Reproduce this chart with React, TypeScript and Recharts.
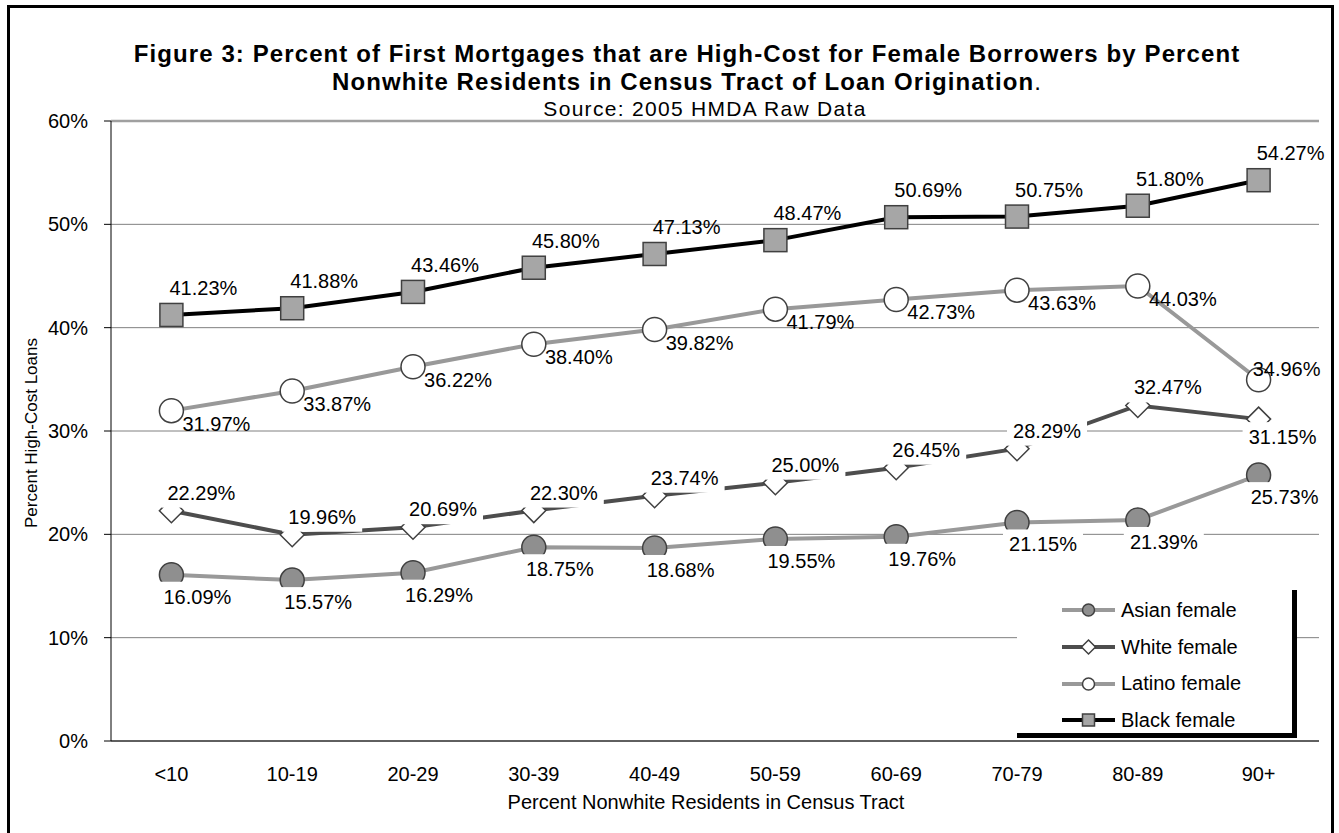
import {
  LineChart,
  Line,
  XAxis,
  YAxis,
  CartesianGrid,
  Legend,
  LabelList,
  ReferenceLine,
} from "recharts";

const categories = ["<10", "10-19", "20-29", "30-39", "40-49", "50-59", "60-69", "70-79", "80-89", "90+"];
const asianFemale = [16.09, 15.57, 16.29, 18.75, 18.68, 19.55, 19.76, 21.15, 21.39, 25.73];
const whiteFemale = [22.29, 19.96, 20.69, 22.3, 23.74, 25.0, 26.45, 28.29, 32.47, 31.15];
const latinoFemale = [31.97, 33.87, 36.22, 38.4, 39.82, 41.79, 42.73, 43.63, 44.03, 34.96];
const blackFemale = [41.23, 41.88, 43.46, 45.8, 47.13, 48.47, 50.69, 50.75, 51.8, 54.27];
const yTicks = [0, 10, 20, 30, 40, 50, 60];
const bandEdges = [0, 1, 2, 3, 4, 5, 6, 7, 8, 9, 10];
const seriesOrder = ["asian", "white", "latino", "black"];

const data = categories.map((cat, i) => ({
  cat,
  asian: asianFemale[i],
  white: whiteFemale[i],
  latino: latinoFemale[i],
  black: blackFemale[i],
}));

const FONT = "'Liberation Sans', Arial, sans-serif";
const MARKER_STROKE = "#404040";

// a couple of labels were moved by hand in the original so they don't collide
const labelNudge: Record<string, Record<number, [number, number]>> = {
  latino: { 9: [28, -11] },
  white: { 9: [24, 18] },
};

type Shape = "circleGray" | "diamond" | "circleWhite" | "square";

const shapeOf: Record<string, Shape> = {
  asian: "circleGray",
  white: "diamond",
  latino: "circleWhite",
  black: "square",
};

function marker(shape: Shape, cx: number, cy: number, s: number, key?: string) {
  if (shape === "square") {
    return (
      <rect key={key} x={cx - s} y={cy - s} width={s * 2} height={s * 2}
        fill="#a6a6a6" stroke={MARKER_STROKE} strokeWidth={1.5} />
    );
  }
  if (shape === "diamond") {
    return (
      <polygon key={key}
        points={`${cx},${cy - s} ${cx + s},${cy} ${cx},${cy + s} ${cx - s},${cy}`}
        fill="#fff" stroke={MARKER_STROKE} strokeWidth={1.5} />
    );
  }
  return (
    <circle key={key} cx={cx} cy={cy} r={s}
      fill={shape === "circleGray" ? "#8f8f8f" : "#fff"}
      stroke={MARKER_STROKE} strokeWidth={1.5} />
  );
}

const dotFor = (shape: Shape, s: number) => (props: any) =>
  marker(shape, props.cx, props.cy, s, `${shape}-${props.index}`);

// labels sit off the point; some have a white box behind them like in Excel
const labelFor = (series: string, dx: number, dy: number, boxed: boolean) => (props: any) => {
  const { x, y, value, index } = props;
  if (value == null) return null;
  const [ox, oy] = labelNudge[series]?.[index] ?? [dx, dy];
  const cx = Number(x) + ox;
  const cy = Number(y) + oy;
  return (
    <g key={`lbl-${index}`}>
      {boxed && <rect x={cx - 40} y={cy - 15} width={80} height={30} fill="#fff" />}
      <text x={cx} y={cy} textAnchor="middle" dominantBaseline="central"
        fontSize={20} fontFamily={FONT} fill="#000">
        {`${Number(value).toFixed(2)}%`}
      </text>
    </g>
  );
};

const lineColor: Record<string, string> = {
  asian: "#999999",
  white: "#4d4d4d",
  latino: "#999999",
  black: "#000000",
};

function renderLegend(props: any) {
  const payload = [...(props.payload || [])].sort(
    (a: any, b: any) => seriesOrder.indexOf(a.dataKey) - seriesOrder.indexOf(b.dataKey)
  );
  return (
    <div
      style={{
        width: 280,
        height: 148,
        background: "#fff",
        borderRight: "5px solid #000",
        borderBottom: "5px solid #000",
        boxSizing: "border-box",
        paddingTop: 2,
        fontFamily: FONT,
        fontSize: 20,
        color: "#000",
      }}
    >
      {payload.map((entry: any) => {
        const key = entry.dataKey as string;
        const shape = shapeOf[key];
        return (
          <div key={key} style={{ display: "flex", alignItems: "center", height: 36.7 }}>
            <svg width={59} height={20} style={{ marginLeft: 45, flex: "none" }}>
              <line x1={0} y1={10} x2={53} y2={10} stroke={lineColor[key]} strokeWidth={4} />
              {marker(shape, 26.5, 10, shape === "diamond" ? 7 : 6)}
            </svg>
            <span style={{ whiteSpace: "nowrap" }}>{entry.value}</span>
          </div>
        );
      })}
    </div>
  );
}

const centered = (top: number, extra: any) => ({
  position: "absolute" as const,
  left: 687,
  top,
  transform: "translate(-50%, -50%)",
  whiteSpace: "nowrap" as const,
  fontFamily: FONT,
  color: "#000",
  ...extra,
});

export default function App() {
  return (
    <div style={{ position: "absolute", left: 0, top: 0, width: 1339, height: 833, overflow: "hidden", background: "#fff" }}>
      <div
        style={{
          position: "absolute",
          left: 7,
          top: 5,
          width: 1327,
          height: 850,
          border: "3px solid #000",
          boxSizing: "border-box",
        }}
      />
      <div style={centered(54, { fontSize: 24, lineHeight: "24px", fontWeight: "bold", letterSpacing: 1.1 })}>
        Figure 3: Percent of First Mortgages that are High-Cost for Female Borrowers by Percent
      </div>
      <div style={centered(82, { fontSize: 24, lineHeight: "24px", letterSpacing: 1.1 })}>
        <b>Nonwhite Residents in Census Tract of Loan Origination</b>.
      </div>
      <div style={centered(108, { left: 705, fontSize: 21, lineHeight: "21px", letterSpacing: 1.3 })}>
        Source: 2005 HMDA Raw Data
      </div>
      <div
        style={{
          position: "absolute",
          left: 32,
          top: 433,
          transform: "translate(-50%, -50%) rotate(-90deg)",
          whiteSpace: "nowrap",
          fontFamily: FONT,
          fontSize: 17,
          color: "#000",
        }}
      >
        Percent High-Cost Loans
      </div>
      <div style={centered(802, { left: 706, fontSize: 20 })}>
        Percent Nonwhite Residents in Census Tract
      </div>
      <div style={{ position: "absolute", left: 0, top: 0 }}>
        <LineChart width={1339} height={833} data={data} margin={{ top: 121, right: 20, bottom: 62, left: 51 }}>
          <CartesianGrid vertical={false} stroke="#808080" strokeWidth={1} />
          <XAxis
            xAxisId="edges"
            type="number"
            domain={[0, 10]}
            allowDataOverflow
            ticks={bandEdges}
            tickFormatter={() => ""}
            axisLine={false}
            tickLine={{ stroke: "#000" }}
            tickSize={7}
            height={0}
          />
          <XAxis
            dataKey="cat"
            padding={{ left: 60.4, right: 60.4 }}
            axisLine={{ stroke: "#000" }}
            tickLine={false}
            tickSize={0}
            tickMargin={26}
            height={30}
            interval={0}
            tick={{ fontSize: 20, fill: "#000", fontFamily: FONT }}
          />
          <YAxis
            domain={[0, 60]}
            ticks={yTicks}
            tickFormatter={(v: number) => `${v}%`}
            axisLine={{ stroke: "#000" }}
            tickLine={{ stroke: "#000" }}
            tickSize={7}
            tickMargin={16}
            width={60}
            tick={{ fontSize: 20, fill: "#000", fontFamily: FONT }}
          />
          <ReferenceLine y={60} stroke="#a0a0a0" strokeWidth={2.5} />
          <ReferenceLine xAxisId="edges" x={10} stroke="#a0a0a0" strokeWidth={2.5} />
          <Legend
            layout="horizontal"
            verticalAlign="middle"
            align="center"
            content={renderLegend}
            wrapperStyle={{ left: 1017, top: 590, width: 280, height: 148 }}
          />
          <Line type="linear" dataKey="asian" name="Asian female" stroke={lineColor.asian} strokeWidth={4}
            dot={dotFor("circleGray", 12)} activeDot={false} isAnimationActive={false}>
            <LabelList dataKey="asian" content={labelFor("asian", 26, 22, true)} />
          </Line>
          <Line type="linear" dataKey="white" name="White female" stroke={lineColor.white} strokeWidth={4}
            dot={dotFor("diamond", 12)} activeDot={false} isAnimationActive={false}>
            <LabelList dataKey="white" content={labelFor("white", 30, -18, true)} />
          </Line>
          <Line type="linear" dataKey="latino" name="Latino female" stroke={lineColor.latino} strokeWidth={4}
            dot={dotFor("circleWhite", 12)} activeDot={false} isAnimationActive={false}>
            <LabelList dataKey="latino" content={labelFor("latino", 45, 13, false)} />
          </Line>
          <Line type="linear" dataKey="black" name="Black female" stroke={lineColor.black} strokeWidth={4}
            dot={dotFor("square", 11.5)} activeDot={false} isAnimationActive={false}>
            <LabelList dataKey="black" content={labelFor("black", 32, -27, false)} />
          </Line>
        </LineChart>
      </div>
    </div>
  );
}
